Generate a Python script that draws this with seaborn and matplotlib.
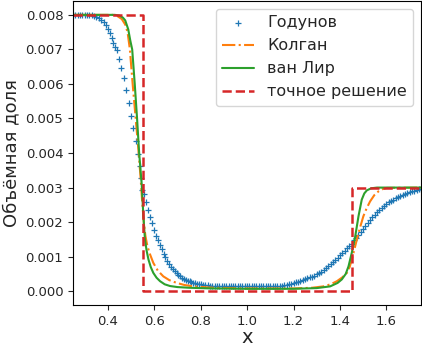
import matplotlib
matplotlib.use("Agg")
import matplotlib.pyplot as plt
import seaborn as sns

# Godunov (markers)
god_x = [0.25, 0.26, 0.27, 0.28, 0.29, 0.30, 0.31, 0.32, 0.33, 0.34, 0.35, 0.36, 0.37,
         0.383, 0.392, 0.40, 0.409, 0.417, 0.424, 0.431, 0.438, 0.448, 0.458, 0.468,
         0.478, 0.49, 0.50, 0.51, 0.52, 0.53, 0.537, 0.543, 0.548, 0.556, 0.566, 0.575,
         0.583, 0.591, 0.60, 0.608, 0.616, 0.624, 0.632, 0.64, 0.648, 0.656, 0.664, 0.672,
         0.68, 0.688, 0.696, 0.704, 0.712, 0.72, 0.728, 0.736, 0.744, 0.752, 0.76, 0.768,
         0.776, 0.784, 0.792,
         0.80, 0.81, 0.82, 0.83, 0.84, 0.85, 0.86, 0.87, 0.88, 0.89,
         0.90, 0.91, 0.92, 0.93, 0.94, 0.95, 0.96, 0.97, 0.98, 0.99,
         1.00, 1.01, 1.02, 1.03, 1.04, 1.05, 1.06, 1.07, 1.08, 1.09,
         1.10, 1.11, 1.12, 1.13, 1.14, 1.15, 1.16, 1.17, 1.18, 1.19,
         1.20, 1.21, 1.22, 1.23, 1.24, 1.25, 1.26, 1.27, 1.28, 1.29,
         1.30, 1.31, 1.32, 1.33, 1.34, 1.35, 1.36, 1.37, 1.38, 1.39,
         1.40, 1.41, 1.42, 1.43, 1.44, 1.45, 1.46, 1.47, 1.48, 1.49,
         1.50, 1.51, 1.52, 1.53, 1.54, 1.55, 1.56, 1.57, 1.58, 1.59,
         1.60, 1.61, 1.62, 1.63, 1.64, 1.65, 1.66, 1.67, 1.68, 1.69,
         1.70, 1.71, 1.72, 1.73, 1.74, 1.75]
god_y = [0.008, 0.008, 0.008, 0.008, 0.008, 0.008, 0.008, 0.008, 0.00799, 0.00797, 0.00795, 0.00791, 0.00786,
         0.00779, 0.00771, 0.0076, 0.00747, 0.00733, 0.00718, 0.00708, 0.00699, 0.00672, 0.00646, 0.00617,
         0.00583, 0.00546, 0.00506, 0.00472, 0.00434, 0.00398, 0.00362, 0.00328, 0.00294, 0.0028, 0.00258, 0.00236,
         0.00215, 0.00197, 0.00178, 0.00161, 0.00147, 0.00134, 0.00121, 0.00109, 0.00098, 0.00088, 0.00079, 0.00071,
         0.00064, 0.00058, 0.00052, 0.00047, 0.00043, 0.00039, 0.00036, 0.00033, 0.00031, 0.00029, 0.00027, 0.00025,
         0.00024, 0.00022, 0.00021,
         0.0002, 0.00019, 0.00018, 0.00017, 0.000165, 0.00016, 0.000155, 0.00015, 0.000145, 0.00014,
         0.00014, 0.00014, 0.00014, 0.00014, 0.00014, 0.00014, 0.00014, 0.00014, 0.00014, 0.00014,
         0.00014, 0.00014, 0.00014, 0.00014, 0.00014, 0.00014, 0.00014, 0.00014, 0.00014, 0.00014,
         0.00014, 0.00014, 0.00014, 0.000145, 0.00015, 0.00016, 0.00017, 0.00018, 0.0002, 0.00022,
         0.00024, 0.00026, 0.00028, 0.0003, 0.00033, 0.00036, 0.00039, 0.00042, 0.00042, 0.00045,
         0.00049, 0.00053, 0.00057, 0.00061, 0.00066, 0.00072, 0.00078, 0.00084, 0.0009, 0.00097,
         0.00104, 0.0011, 0.00117, 0.00124, 0.00131, 0.00138, 0.00147, 0.00155, 0.00163, 0.00172,
         0.0018, 0.00189, 0.00198, 0.00206, 0.00214, 0.00221, 0.00228, 0.00235, 0.00241, 0.00247,
         0.00252, 0.00257, 0.00261, 0.00265, 0.00269, 0.00273, 0.00276, 0.00279, 0.00282, 0.00285,
         0.00287, 0.00289, 0.00291, 0.00293, 0.00295, 0.00296]

# Kolgan
kol_x = [0.25, 0.42, 0.44, 0.46, 0.475, 0.485, 0.495, 0.507, 0.52, 0.533, 0.541, 0.548, 0.555,
         0.562, 0.57, 0.58, 0.596, 0.615, 0.639, 0.665, 0.697, 0.73, 0.769, 0.85, 1.0, 1.2,
         1.28, 1.329, 1.36, 1.387, 1.41, 1.43, 1.442, 1.451, 1.462, 1.473, 1.487, 1.501,
         1.515, 1.53, 1.548, 1.566, 1.585, 1.602, 1.75]
kol_y = [0.008, 0.008, 0.00797, 0.00788, 0.00772, 0.0075, 0.007, 0.006, 0.005, 0.004, 0.0033, 0.0026, 0.002,
         0.0016, 0.00132, 0.0011, 0.00082, 0.0006, 0.00043, 0.00032, 0.00024, 0.00018, 0.00014, 0.0001, 0.00008, 0.00008,
         0.0001, 0.00014, 0.0002, 0.00029, 0.0004, 0.00053, 0.0007, 0.00092, 0.0012, 0.0015, 0.00185, 0.00217,
         0.0024, 0.0026, 0.00278, 0.00289, 0.00296, 0.00299, 0.003]

# van Leer
vl_x = [0.25, 0.43, 0.45, 0.465, 0.475, 0.488, 0.497, 0.505, 0.516, 0.526, 0.535, 0.541, 0.546,
        0.553, 0.56, 0.567, 0.575, 0.585, 0.596, 0.61, 0.625, 0.645, 0.668, 0.70, 0.75, 0.85,
        1.0, 1.2, 1.3, 1.358, 1.39, 1.408, 1.425, 1.437, 1.451, 1.466, 1.48, 1.494, 1.505,
        1.516, 1.535, 1.56, 1.75]
vl_y = [0.008, 0.008, 0.00798, 0.00792, 0.00784, 0.00758, 0.00725, 0.007, 0.006, 0.005, 0.004, 0.0035, 0.0031,
        0.0022, 0.0015, 0.00118, 0.00092, 0.0007, 0.00053, 0.00039, 0.00029, 0.0002, 0.00015, 0.00012, 0.0001, 0.00008,
        0.00007, 0.00007, 0.00009, 0.00014, 0.00024, 0.00034, 0.0005, 0.00072, 0.00111, 0.00159, 0.00217, 0.00265, 0.00283,
        0.00292, 0.00298, 0.003, 0.003]

# exact solution
ex_x = [0.25, 0.55, 0.55, 1.45, 1.45, 1.75]
ex_y = [0.008, 0.008, 0.0, 0.0, 0.003, 0.003]

sns.set_style("ticks")
plt.rcParams['font.family'] = ['DejaVu Sans']

fig = plt.figure(figsize=(4.22, 3.49), dpi=100)
ax = fig.add_axes([0.173, 0.126, 0.825, 0.871])

sns.scatterplot(x=god_x, y=god_y, ax=ax, color='C0', marker='+', s=18,
                linewidth=0.9, label='Годунов')
sns.lineplot(x=kol_x, y=kol_y, sort=False, estimator=None, ax=ax, color='C1',
             linestyle='-.', linewidth=1.5, label='Колган')
sns.lineplot(x=vl_x, y=vl_y, sort=False, estimator=None, ax=ax, color='C2',
             linestyle='-', linewidth=1.5, label='ван Лир')
sns.lineplot(x=ex_x, y=ex_y, sort=False, estimator=None, ax=ax, color='#d62728',
             linestyle='--', linewidth=1.8, label='точное решение')

ax.set_xlim(0.25, 1.75)
ax.set_ylim(-0.0004, 0.0084)
ax.set_xticks([0.4, 0.6, 0.8, 1.0, 1.2, 1.4, 1.6])
ax.set_yticks([0.0, 0.001, 0.002, 0.003, 0.004, 0.005, 0.006, 0.007, 0.008])
ax.tick_params(labelsize=9.5)
ax.set_xlabel('x', fontsize=14, labelpad=0)
ax.set_ylabel('Объёмная доля', fontsize=13)
for s in ax.spines.values():
    s.set_visible(True)
    s.set_color('black')
ax.legend(loc='upper right', fontsize=11.5)

fig.savefig('out.png', dpi=100)
